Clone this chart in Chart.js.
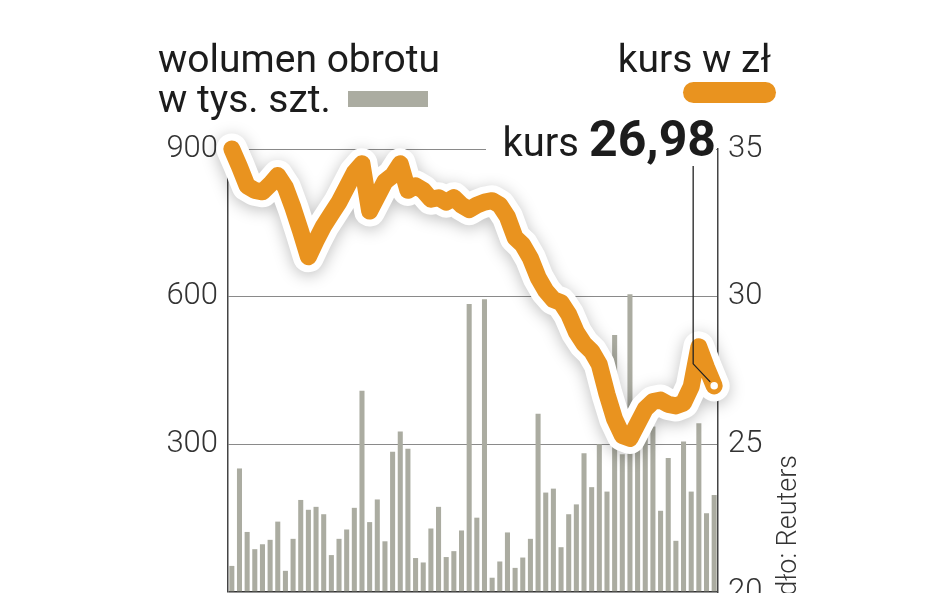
<!DOCTYPE html>
<html>
<head>
<meta charset="utf-8">
<script src="https://cdn.jsdelivr.net/npm/chart.js@4.4.1/dist/chart.umd.min.js"></script>
<style>
  html, body { margin: 0; padding: 0; background: #fff; overflow: hidden; width: 948px; height: 593px; }
  #wrap { position: absolute; left: 0; top: 0; width: 948px; height: 640px; }
</style>
</head>
<body>
<div id="wrap"><canvas id="chart" width="948" height="640"></canvas></div>
<script>
// sessions (64 trading days)
const days = Array.from({ length: 64 }, (_, i) => String(i + 1));

// wolumen obrotu w tys. szt.
const volume = [53, 251, 122, 87, 97, 106, 143, 43, 108, 187,
  167, 173, 158, 75, 108, 127, 171, 409, 142, 188,
  103, 285, 326, 291, 69, 60, 129, 173, 71, 83,
  125, 585, 151, 595, 29, 62, 121, 49, 70, 108,
  362, 202, 210, 91, 158, 178, 282, 213, 300, 204,
  522, 280, 605, 290, 340, 336, 165, 272, 104, 306,
  204, 343, 160, 197];

// kurs w zł
const price = [35.0, 34.4, 33.75, 33.6, 33.55, 33.8, 34.1, 33.7, 33.0, 32.2,
  31.35, 31.9, 32.4, 32.8, 33.2, 33.7, 34.2, 34.5, 32.9, 33.4,
  33.9, 34.1, 34.5, 33.6, 33.75, 33.6, 33.3, 33.35, 33.2, 33.35,
  33.1, 32.95, 33.1, 33.2, 33.25, 33.1, 32.7, 32.0, 31.75, 31.3,
  30.65, 30.2, 29.9, 29.8, 29.4, 28.8, 28.4, 28.15, 27.7, 26.7,
  25.85, 25.3, 25.2, 25.7, 26.2, 26.45, 26.5, 26.35, 26.3, 26.4,
  26.95, 28.3, 27.6, 26.98];

const volumeTicks = [0, 300, 600, 900];
const priceTicks = [20, 25, 30, 35];
const lastPrice = '26,98';

const ORANGE = '#E9931F';
const GREY_BAR = '#ABACA1';
const TEXT = '#1c1c1c';
const FONT = 'Roboto, "Liberation Sans", sans-serif';

// soft shadow under the white halo of the price line
const haloShadow = {
  id: 'haloShadow',
  beforeDatasetDraw(chart, args) {
    if (args.index !== 1) return;
    const ctx = chart.ctx;
    ctx.save();
    ctx.shadowColor = 'rgba(0,0,0,0.25)';
    ctx.shadowBlur = 16;
    ctx.shadowOffsetY = 3;
  },
  afterDatasetDraw(chart, args) {
    if (args.index === 1) chart.ctx.restore();
  }
};

// texts, legend swatches, leader line
const decorations = {
  id: 'decorations',
  beforeDatasetsDraw(chart) {
    // top gridline stops before the "kurs" label
    const ctx = chart.ctx;
    const y = chart.scales.yV.getPixelForValue(900);
    ctx.save();
    ctx.fillStyle = '#fff';
    ctx.fillRect(486, y - 3, chart.chartArea.right - 488, 6);
    ctx.restore();
  },
  afterDraw(chart) {
    const ctx = chart.ctx;
    ctx.save();
    ctx.fillStyle = TEXT;
    ctx.textBaseline = 'alphabetic';

    // left legend
    ctx.font = '400 39px ' + FONT;
    ctx.textAlign = 'left';
    ctx.fillText('wolumen obrotu', 158, 72);
    ctx.fillText('w tys. szt.', 158, 112);
    ctx.fillStyle = GREY_BAR;
    ctx.fillRect(348, 91, 80, 16);

    // right legend
    ctx.fillStyle = TEXT;
    ctx.textAlign = 'right';
    ctx.fillText('kurs w zł', 771, 72);
    ctx.fillStyle = ORANGE;
    ctx.beginPath();
    ctx.roundRect(683, 82, 93, 21, 10.5);
    ctx.fill();

    // current price label
    ctx.fillStyle = TEXT;
    ctx.font = '700 50px ' + FONT;
    ctx.fillText(lastPrice, 716, 156);
    const w = ctx.measureText(lastPrice).width;
    ctx.font = '400 40px ' + FONT;
    ctx.fillText('kurs', 716 - w - 10, 156);

    // leader line to the last point
    const pts = chart.getDatasetMeta(2).data;
    const p = pts[pts.length - 1];
    ctx.strokeStyle = '#222';
    ctx.lineWidth = 1.3;
    ctx.beginPath();
    ctx.moveTo(p.x - 21, 166);
    ctx.lineTo(p.x - 21, p.y - 22);
    ctx.lineTo(p.x - 4, p.y - 4);
    ctx.stroke();

    // source
    ctx.translate(789, 455);
    ctx.rotate(-Math.PI / 2);
    ctx.fillStyle = '#333';
    ctx.font = '300 27px ' + FONT;
    ctx.textAlign = 'right';
    ctx.textBaseline = 'middle';
    ctx.fillText('Źródło: Reuters', 0, 0);
    ctx.restore();
  }
};

const tickFont = { family: FONT, size: 31, weight: 300 };

new Chart(document.getElementById('chart'), {
  type: 'bar',
  data: {
    labels: days,
    datasets: [
      {
        type: 'bar',
        data: volume,
        yAxisID: 'yV',
        backgroundColor: GREY_BAR,
        barPercentage: 0.66,
        categoryPercentage: 1,
        order: 3
      },
      {
        type: 'line',
        data: price,
        yAxisID: 'yK',
        borderColor: '#fff',
        borderWidth: 31,
        borderJoinStyle: 'round',
        borderCapStyle: 'round',
        pointRadius: 0,
        tension: 0,
        clip: false,
        order: 2
      },
      {
        type: 'line',
        data: price,
        yAxisID: 'yK',
        borderColor: ORANGE,
        borderWidth: 17,
        borderJoinStyle: 'round',
        borderCapStyle: 'round',
        tension: 0,
        clip: false,
        pointRadius: ctx => ctx.dataIndex === price.length - 1 ? 5 : 0,
        pointBackgroundColor: '#fff',
        pointBorderColor: ORANGE,
        pointBorderWidth: 2.5,
        order: 1
      }
    ]
  },
  options: {
    responsive: false,
    animation: false,
    layout: { padding: { top: 149, bottom: 48, left: 0, right: 0 } },
    plugins: { legend: { display: false }, tooltip: { enabled: false } },
    scales: {
      x: { display: false, offset: true },
      yV: {
        position: 'left',
        min: 0,
        max: 900,
        afterBuildTicks: s => { s.ticks = volumeTicks.map(v => ({ value: v })); },
        afterFit: s => { s.width = 228; },
        ticks: {
          font: tickFont,
          color: '#333',
          padding: 10,
          callback: v => v === 0 ? '' : String(v)
        },
        grid: {
          drawTicks: false,
          color: c => c.tick.value === 0 ? '#333' : '#8a8a8a',
          lineWidth: c => c.tick.value === 0 ? 1.5 : 1
        },
        border: { display: true, color: '#444', width: 1.5 }
      },
      yK: {
        position: 'right',
        min: 20,
        max: 35,
        afterBuildTicks: s => { s.ticks = priceTicks.map(v => ({ value: v })); },
        afterFit: s => { s.width = 230; },
        ticks: { font: tickFont, color: '#333', padding: 10 },
        grid: { display: false, drawTicks: false },
        border: { display: true, color: '#444', width: 1.5 }
      }
    }
  },
  plugins: [haloShadow, decorations]
});
</script>
</body>
</html>
